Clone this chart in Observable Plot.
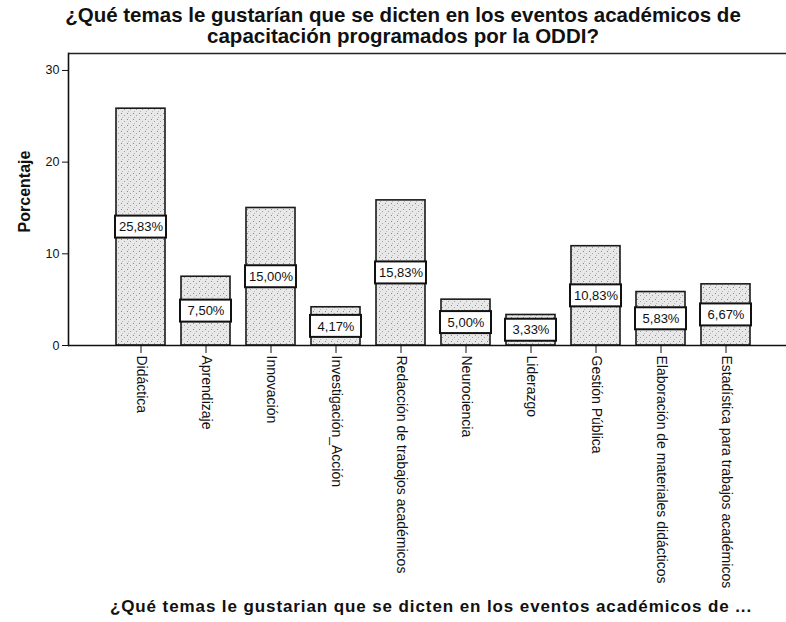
<!DOCTYPE html>
<html>
<head>
<meta charset="utf-8">
<script src="https://cdn.jsdelivr.net/npm/d3@7"></script>
<script src="https://cdn.jsdelivr.net/npm/@observablehq/plot@0.6"></script>
<style>
  html, body { margin: 0; padding: 0; background: #ffffff; width: 786px; height: 622px; overflow: hidden; }
  #title { height: 46px; padding-left: 20px; box-sizing: border-box; text-align: center;
    font-family: "Liberation Sans", Arial, sans-serif; font-weight: bold; font-size: 20.5px; line-height: 21px; padding-top: 4px; color: #111; white-space: nowrap; }
  #xtitle { height: 32px; padding-left: 76px; box-sizing: border-box; text-align: center;
    font-family: "Liberation Sans", Arial, sans-serif; font-weight: bold; font-size: 17px; line-height: 34px; color: #111; letter-spacing: 0.9px; white-space: nowrap; }
  #chart svg { display: block; }
</style>
</head>
<body>
<div id="title">¿Qué temas le gustarían que se dicten en los eventos académicos de<br>capacitación programados por la ODDI?</div>
<div id="chart"></div>
<div id="xtitle">¿Qué temas le gustarian que se dicten en los eventos académicos de ...</div>
<script>
const categories = [
  "Didáctica",
  "Aprendizaje",
  "Innovación",
  "Investigación_Acción",
  "Redacción de trabajos académicos",
  "Neurociencia",
  "Liderazgo",
  "Gestión Pública",
  "Elaboración de materiales didácticos",
  "Estadística para trabajos académicos"
];
const values = [25.83, 7.50, 15.00, 4.17, 15.83, 5.00, 3.33, 10.83, 5.83, 6.67];
const yTicks = [0, 10, 20, 30];
const yMax = 31.85;

const data = categories.map((c, i) => ({cat: c, v: values[i], label: values[i].toFixed(2).replace(".", ",") + "%"}));

const boxHalf = 1.2;
const font = '"Liberation Sans", Arial, sans-serif';

const chart = Plot.plot({
  width: 786,
  height: 544,
  marginLeft: 68,
  marginRight: 0,
  marginTop: 7,
  marginBottom: 245,
  style: {fontFamily: font, fontSize: "12.5px", color: "#111", background: "transparent"},
  x: {domain: categories, paddingInner: 0.24, paddingOuter: 0.575, align: 0.58, label: null},
  y: {domain: [0, yMax], label: null},
  marks: [
    Plot.barY(data, {x: "cat", y: "v", fill: "#e6e6e6", stroke: "#1a1a1a", strokeWidth: 1.6, className: "bars"}),
    Plot.barY(data, {x: "cat", y1: d => d.v / 2 - boxHalf, y2: d => d.v / 2 + boxHalf, fill: "white", stroke: "#111", strokeWidth: 2, insetLeft: -1, insetRight: -1}),
    Plot.text(data, {x: "cat", y: d => d.v / 2, text: "label", fontSize: 13, fill: "#111"}),
    Plot.ruleY([0], {stroke: "#111", strokeWidth: 1.6}),
    Plot.ruleY([yMax], {stroke: "#222", strokeWidth: 1.5}),
    Plot.frame({anchor: "left", stroke: "#111", strokeWidth: 1.6}),
    Plot.axisY({ticks: yTicks, tickSize: 6, tickPadding: 3, fontSize: 12.5, label: "Porcentaje", labelAnchor: "center", labelArrow: "none", labelOffset: 50}),
    Plot.axisX({tickSize: 8, tickRotate: 90, tickPadding: 2, fontSize: 14, label: null})
  ]
});

// stipple pattern for bars
const svg = d3.select(chart);
const defs = svg.insert("defs", ":first-child");
const pat = defs.append("pattern").attr("id", "stipple").attr("patternUnits", "userSpaceOnUse").attr("width", 6).attr("height", 6);
pat.append("rect").attr("width", 6).attr("height", 6).attr("fill", "#e8e8e8");
pat.append("rect").attr("x", 1).attr("y", 1).attr("width", 1).attr("height", 1).attr("fill", "#8a8a8a");
pat.append("rect").attr("x", 4).attr("y", 3).attr("width", 1).attr("height", 1).attr("fill", "#a0a0a0");
pat.append("rect").attr("x", 2).attr("y", 5).attr("width", 1).attr("height", 1).attr("fill", "#b8b8b8");
svg.selectAll(".bars rect").attr("fill", "url(#stipple)");
// axis label style
svg.selectAll("[aria-label='y-axis label'] text, [aria-label='y-axis label']").attr("font-weight", "bold").attr("font-size", 16);
svg.selectAll("[aria-label='y-axis label'] text").each(function() {
  const t = d3.select(this).attr("transform") || "";
  d3.select(this).attr("transform", t + " translate(8,0)");
});

document.getElementById("chart").appendChild(chart);
</script>
</body>
</html>
